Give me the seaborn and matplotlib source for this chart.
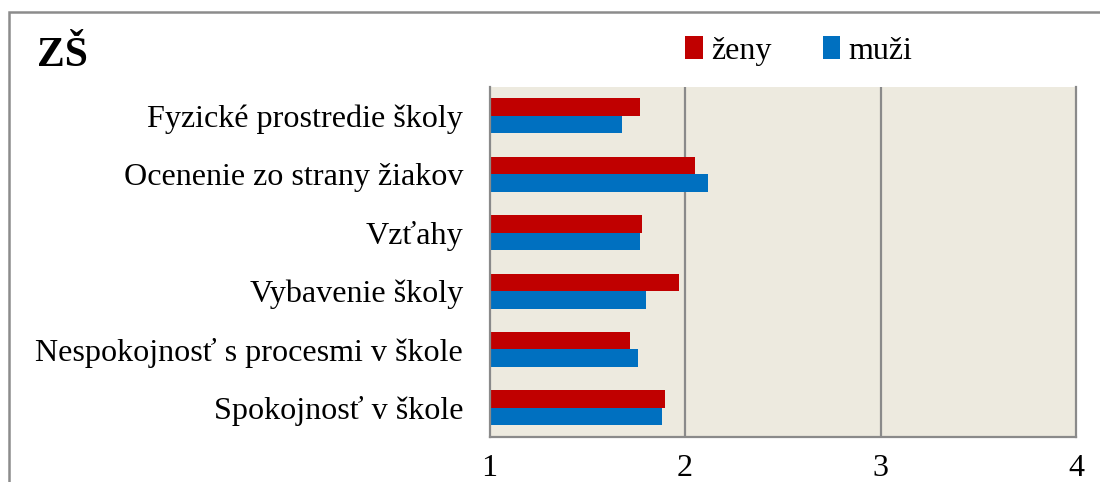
import matplotlib
matplotlib.use("Agg")
import matplotlib.pyplot as plt
import seaborn as sns
import pandas as pd
from matplotlib.patches import Patch, Rectangle

categories = ["Fyzické prostredie školy", "Ocenenie zo strany žiakov", "Vzťahy",
              "Vybavenie školy", "Nespokojnosť s procesmi v škole", "Spokojnosť v škole"]
zeny = [1.77, 2.05, 1.78, 1.97, 1.72, 1.90]
muzi = [1.68, 2.12, 1.77, 1.80, 1.76, 1.88]
series = ["ženy", "muži"]
xticks = [1, 2, 3, 4]
title = "ZŠ"

df = pd.DataFrame({
    "kategoria": categories * 2,
    "hodnota": zeny + muzi,
    "pohlavie": [series[0]] * len(categories) + [series[1]] * len(categories),
})

sns.set_theme(style="white")
plt.rcParams['font.family'] = ['Liberation Serif', 'DejaVu Serif']
plt.rcParams['text.color'] = 'black'
plt.rcParams['xtick.color'] = 'black'
plt.rcParams['ytick.color'] = 'black'

colors = {"ženy": "#C00000", "muži": "#0070C0"}
grid_c = "#8A8A8A"
fs = 23.1

fig = plt.figure(figsize=(11, 4.82), dpi=100)
ax = fig.add_axes([489.5 / 1100, 1 - 437 / 482, (1076 - 489.5) / 1100, (437 - 86.7) / 482])
ax.set_facecolor("#EDEADF")

sns.barplot(data=df, y="kategoria", x="hodnota", hue="pohlavie", hue_order=series,
            order=categories, palette=colors, orient="h", width=0.6, ax=ax,
            linewidth=0, legend=False, saturation=1)

ax.set_xlim(1, 4)
ax.set_xticks(xticks)
ax.set_xticklabels([str(t) for t in xticks], fontsize=fs, color="black")
ax.tick_params(axis="x", length=0, pad=12)
ax.tick_params(axis="y", length=0, pad=19, labelsize=fs, labelcolor="black")
ax.set_xlabel("")
ax.set_ylabel("")
for x in xticks[1:-1]:
    ax.axvline(x, color=grid_c, lw=1.6, zorder=0.5)
for s in ["left", "bottom", "right"]:
    ax.spines[s].set_visible(True)
    ax.spines[s].set_color(grid_c)
    ax.spines[s].set_linewidth(1.6)
ax.spines["top"].set_visible(False)
ax.set_axisbelow(True)

fig.text(37 / 1100, 1 - 66 / 482, title, fontsize=30, fontweight="bold", ha="left",
         va="baseline", color="black")

handles = [Patch(facecolor=colors[s], edgecolor="none", label=s) for s in series]
fig.legend(handles=handles, loc="center left", bbox_to_anchor=(669 / 1100, 1 - 51 / 482),
           ncol=2, frameon=False, fontsize=fs, handlelength=0.55, handleheight=0.7,
           handletextpad=0.25, columnspacing=1.6, borderpad=0, labelcolor="black")

fig.patches.append(Rectangle((8.5 / 1100, -0.2), 1.2, 1.2 + (1 - 12 / 482) - 1.0,
                             transform=fig.transFigure, fill=False,
                             edgecolor="#8C8C8C", lw=1.8))

fig.savefig("out.png", dpi=100)
